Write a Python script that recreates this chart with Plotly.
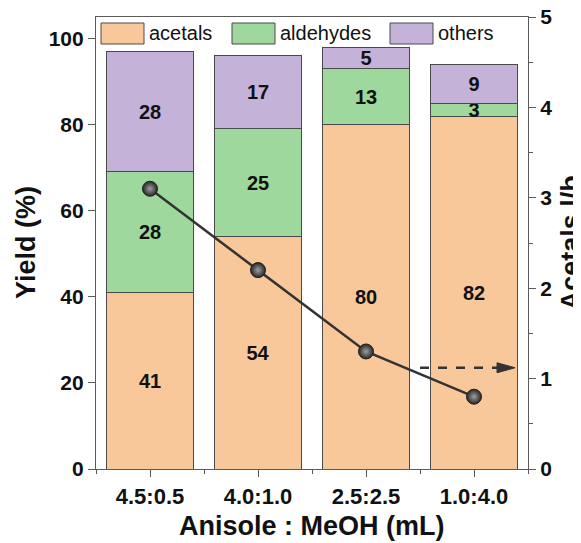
import plotly.graph_objects as go

categories = ["4.5:0.5", "4.0:1.0", "2.5:2.5", "1.0:4.0"]
acetals = [41, 54, 80, 82]
aldehydes = [28, 25, 13, 3]
others = [28, 17, 5, 9]
ratio_lb = [3.1, 2.2, 1.3, 0.8]
y_ticks = [0, 20, 40, 60, 80, 100]
y2_ticks = [0, 1, 2, 3, 4, 5]

series = [("acetals", acetals, "#F9C89A"),
          ("aldehydes", aldehydes, "#9ED89C"),
          ("others", others, "#C4B2D8")]

FONT = "Liberation Sans, Arial, sans-serif"
xpos = list(range(len(categories)))

fig = go.Figure()
for name, vals, col in series:
    fig.add_trace(go.Bar(
        x=xpos, y=vals, name=name, width=0.8,
        marker=dict(color=col, line=dict(color="#4a4a4a", width=1)),
        text=[str(v) for v in vals], textposition="inside",
        insidetextanchor="middle", textangle=0,
        textfont=dict(family=FONT, size=20, color="#111", weight="bold"),
        showlegend=False, cliponaxis=False,
    ))

fig.add_trace(go.Scatter(
    x=xpos, y=ratio_lb, yaxis="y2", mode="lines+markers",
    line=dict(color="#333333", width=2.5),
    marker=dict(size=15, color="#262626", symbol="circle",
                gradient=dict(type="radial", color="#a0a0a0"),
                line=dict(color="#1e1e1e", width=1)),
    showlegend=False,
))

axis_line = "#5a5a5a"
tickfont = dict(family=FONT, size=21, color="#111", weight="bold")
xtickfont = dict(family=FONT, size=22, color="#111", weight="bold")

# the page body offsets the figure by 8px; compensate in margins
ML, MT, PW, PH = 88, 9, 432, 452
fig.update_layout(
    width=581, height=543,
    margin=dict(l=ML, r=581 - ML - PW, t=MT, b=543 - MT - PH, autoexpand=False),
    paper_bgcolor="white", plot_bgcolor="white",
    barmode="stack", bargap=0.2,
    uniformtext=dict(minsize=20, mode="show"),
    xaxis=dict(range=[-0.5, 3.5], tickvals=xpos, ticktext=categories, automargin=False,
               showline=True, linecolor=axis_line, linewidth=1.2, mirror=True,
               ticks="outside", ticklen=7, tickcolor=axis_line, tickwidth=1.2,
               minor=dict(tickvals=[-0.5, 0.5, 1.5, 2.5, 3.5], ticks="outside",
                         ticklen=4, tickcolor=axis_line, tickwidth=1.2),
               showgrid=False, zeroline=False, tickfont=xtickfont,
               ticklabeloverflow="allow"),
    yaxis=dict(range=[0, 105], tickvals=y_ticks, automargin=False,
               showline=True, linecolor=axis_line, linewidth=1.2,
               ticks="outside", ticklen=7, tickcolor=axis_line, tickwidth=1.2,
               showgrid=False, zeroline=False, tickfont=tickfont,
               ticklabeloverflow="allow"),
    yaxis2=dict(range=[0, 5], tickvals=y2_ticks, overlaying="y", side="right",
                automargin=False,
                showline=True, linecolor=axis_line, linewidth=1.2,
                ticks="outside", ticklen=7, tickcolor=axis_line, tickwidth=1.2,
                minor=dict(dtick=0.5, tick0=0, ticks="outside", ticklen=4,
                           tickcolor=axis_line, tickwidth=1.2),
                showgrid=False, zeroline=False, tickfont=tickfont,
                ticklabeloverflow="allow"),
)

# axis titles
title_font = dict(family=FONT, size=27, color="#111", weight="bold")
fig.add_annotation(text="Anisole : MeOH (mL)", xref="paper", yref="paper",
                   x=0.5, y=-0.125, xanchor="center", yanchor="middle",
                   showarrow=False, font=title_font)
fig.add_annotation(text="Yield (%)", xref="paper", yref="paper",
                   x=-0.162, y=0.5, xanchor="center", yanchor="middle",
                   textangle=-90, showarrow=False, font=title_font)
fig.add_annotation(text="Acetals l/b", xref="paper", yref="paper",
                   x=1.100, y=0.5, xanchor="center", yanchor="middle",
                   textangle=-90, showarrow=False, font=title_font)

# legend (drawn manually to match the large swatches); positions in plot pixels
leg_font = dict(family=FONT, size=20, color="#111")
leg_items = [("acetals", "#F9C89A", 5), ("aldehydes", "#9ED89C", 136), ("others", "#C4B2D8", 294)]
for name, col, px in leg_items:
    fig.add_shape(type="rect", xref="paper", yref="paper",
                  x0=px / PW, x1=(px + 43) / PW,
                  y0=(PH - 27) / PH, y1=(PH - 6) / PH,
                  fillcolor=col, line=dict(color="#4a4a4a", width=1))
    fig.add_annotation(text=name, xref="paper", yref="paper", x=(px + 46) / PW,
                       y=(PH - 16.5) / PH, xanchor="left", yanchor="middle",
                       showarrow=False, font=leg_font)

# dashed arrow pointing to the right axis
arrow_y = 1.12
fig.add_shape(type="line", xref="x", yref="y2", x0=2.5, x1=3.22, y0=arrow_y, y1=arrow_y,
              line=dict(color="#333333", width=2.5, dash="dash"))
fig.add_shape(type="path", xref="x", yref="y2", xsizemode="pixel", ysizemode="pixel",
              xanchor=3.38, yanchor=arrow_y, path="M -18,-5 L 0,0 L -18,5 Z",
              fillcolor="#333333", line=dict(color="#333333", width=1))

fig.write_html("out.html")
